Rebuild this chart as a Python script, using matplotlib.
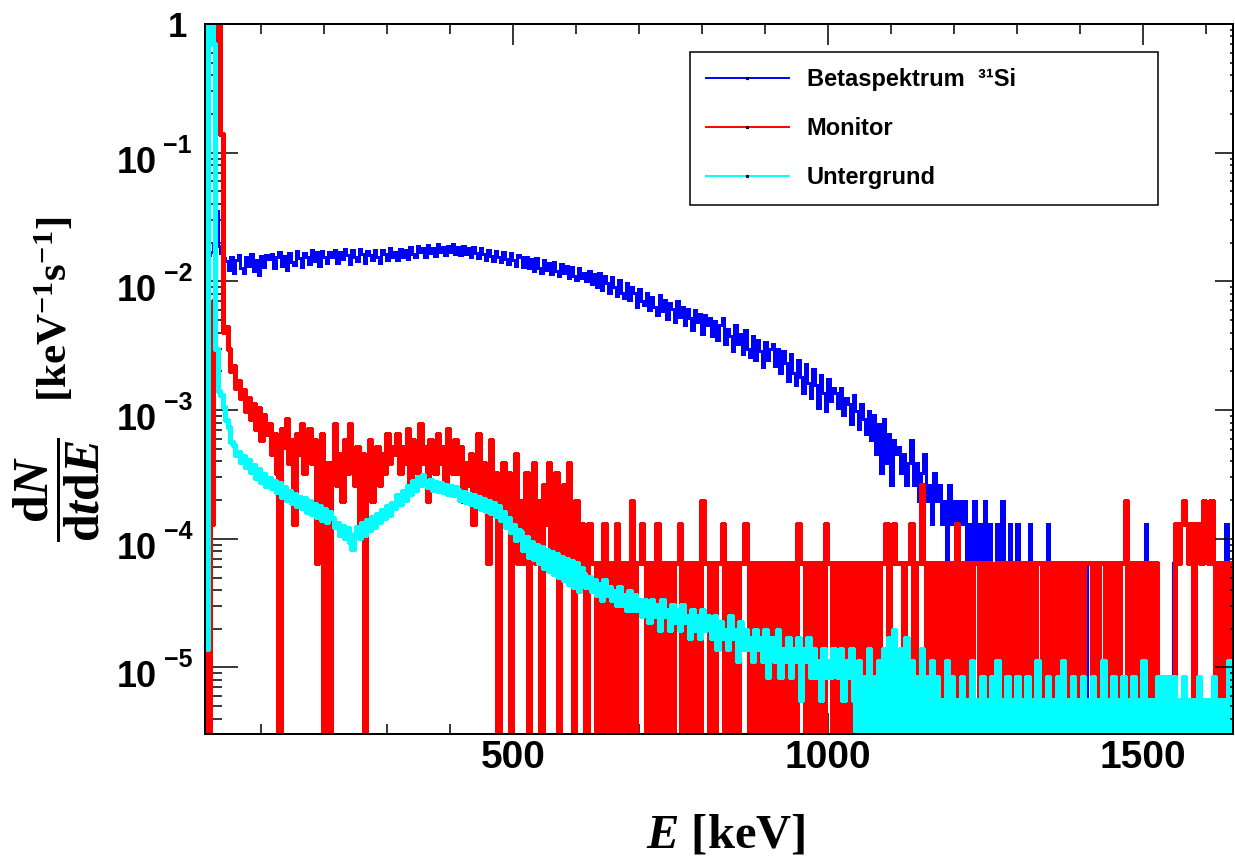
import numpy as np
import matplotlib.pyplot as plt
from matplotlib import transforms
from matplotlib.lines import Line2D
from matplotlib.ticker import NullFormatter, LogLocator

plt.rcParams['mathtext.fontset'] = 'custom'
plt.rcParams['mathtext.rm'] = 'Liberation Serif:bold'
plt.rcParams['mathtext.bf'] = 'Liberation Serif:bold'
plt.rcParams['mathtext.it'] = 'Liberation Serif:bold:italic'

# histogram binning (keV): 4 keV bins from 11 keV on
bin_lo = 11
bin_w = 4

# levels, one row = 100 keV
# beta / monitor: 1 level = 6.5e-5 keV^-1 s^-1, background: 1 level = 2.8e-6
beta_unit = 6.5e-5
monitor_unit = 6.5e-5
bg_unit = 2.8e-6

beta_cnt = [
    0, 246, 260, 300, 540, 290, 255, 232, 222, 188, 240, 180, 226, 248, 196, 178, 236, 201, 252, 186, 224, 172, 241, 199, 246,
    228, 250, 196, 236, 258, 204, 244, 190, 256, 218, 206, 266, 232, 198, 254, 240, 210, 270, 222, 258, 204, 264, 238, 212, 262,
    236, 270, 214, 262, 228, 276, 246, 210, 268, 240, 222, 274, 250, 214, 266, 248, 226, 272, 238, 212, 268, 250, 226, 278, 240,
    258, 226, 276, 240, 270, 230, 284, 252, 236, 290, 258, 280, 240, 296, 256, 282, 244, 302, 262, 286, 246, 292, 258, 298, 252,
    284, 248, 290, 252, 278, 238, 286, 256, 234, 280, 250, 226, 272, 242, 220, 266, 236, 216, 262, 228, 210, 254, 224, 204, 246,
    236, 200, 240, 194, 228, 186, 234, 196, 180, 224, 188, 214, 176, 218, 186, 170, 210, 178, 202, 164, 200, 170, 158, 194, 162,
    180, 154, 186, 148, 176, 140, 178, 132, 168, 150, 124, 166, 140, 118, 158, 126, 114, 150, 110, 140, 124, 98, 134, 108, 100,
    124, 92, 116, 98, 84, 120, 90, 110, 78, 104, 94, 74, 108, 82, 98, 70, 94, 80, 64, 92, 74, 86, 60, 84, 70,
    80, 58, 76, 54, 70, 80, 50, 66, 58, 44, 70, 50, 60, 42, 64, 46, 40, 58, 38, 54, 44, 33, 52, 38, 46,
    50, 34, 46, 30, 44, 36, 26, 42, 30, 24, 38, 28, 21, 35, 25, 19, 32, 24, 16, 29, 21, 15, 27, 18, 23,
    21, 16, 23, 14, 19, 17, 12, 20, 15, 11, 17, 13, 10, 15, 9, 14, 7, 12, 5, 13, 6, 10, 4, 9, 7,
    8, 5, 7, 4, 6, 9, 4, 6, 3, 5, 7, 3, 4, 2, 5, 3, 4, 2, 3, 1, 4, 2, 3, 1, 3,
    2, 3, 1, 2, 0, 3, 1, 2, 1, 3, 0, 2, 1, 0, 2, 1, 3, 0, 1, 2, 0, 1, 2, 0, 1,
    1, 0, 2, 0, 1, 0, 0, 1, 0, 2, 0, 0, 1, 0, 0, 1, 0, 0, 0, 1, 0, 0, 0, 0, 1,
    0, 0, 0, 0, 1, 0, 0, 0, 0, 0, 0, 1, 0, 0, 0, 0, 0, 0, 0, 0, 0, 0, 0, 2, 0,
    0, 0, 0, 0, 0, 0, 0, 0, 0, 1, 0, 0, 0, 0, 0, 0, 0, 0, 0, 0, 0, 0, 0, 0, 0,
    0, 0, 0, 0, 0, 2, 0, 0,
]

monitor_cnt = [
    1, 0, 2, 108, 50000, 50000, 2150, 62, 68, 46, 31, 34, 23, 26, 19, 22, 15, 19, 13, 17, 11, 16, 9, 14, 10,
    12, 7, 10, 5, 0, 11, 8, 13, 6, 9, 2, 10, 7, 12, 5, 8, 11, 6, 9, 1, 7, 10, 0, 6, 0,
    6, 12, 4, 7, 3, 9, 5, 12, 6, 4, 8, 2, 7, 0, 5, 9, 3, 6, 8, 4, 7, 5, 10, 6, 8,
    7, 10, 5, 8, 6, 11, 4, 9, 7, 5, 12, 6, 8, 3, 9, 7, 5, 10, 6, 8, 4, 11, 7, 5, 9,
    5, 8, 3, 6, 4, 7, 2, 5, 10, 3, 6, 4, 1, 9, 3, 5, 0, 4, 6, 2, 5, 0, 3, 7, 1,
    3, 1, 5, 0, 2, 6, 1, 3, 0, 4, 2, 6, 1, 3, 5, 0, 2, 4, 1, 6, 2, 0, 3, 1, 2,
    1, 0, 2, 1, 1, 0, 1, 0, 2, 0, 1, 1, 0, 2, 0, 1, 1, 0, 1, 3, 0, 1, 1, 2, 1,
    0, 1, 1, 0, 2, 0, 1, 1, 0, 1, 0, 1, 1, 2, 0, 1, 0, 1, 1, 0, 1, 0, 3, 1, 1,
    0, 1, 0, 1, 1, 2, 0, 1, 1, 0, 1, 0, 1, 1, 2, 1, 0, 1, 0, 1, 1, 0, 1, 1, 0,
    1, 1, 0, 1, 0, 1, 1, 0, 1, 0, 2, 1, 1, 0, 1, 0, 1, 1, 0, 1, 0, 2, 1, 1, 0,
    1, 0, 1, 1, 0, 1, 0, 1, 1, 0, 1, 1, 0, 1, 1, 0, 1, 0, 1, 1, 2, 0, 1, 2, 1,
    1, 1, 0, 1, 1, 2, 0, 1, 1, 4, 1, 0, 1, 1, 0, 1, 0, 1, 1, 0, 1, 1, 0, 2, 0,
    1, 1, 0, 1, 0, 1, 1, 0, 1, 1, 0, 1, 0, 0, 1, 1, 0, 1, 1, 0, 1, 0, 1, 1, 0,
    1, 1, 0, 1, 0, 1, 1, 0, 1, 0, 1, 1, 0, 1, 1, 0, 1, 0, 1, 1, 0, 1, 1, 0, 1,
    1, 1, 0, 1, 0, 1, 1, 0, 1, 1, 0, 1, 0, 1, 1, 3, 0, 1, 1, 0, 1, 1, 0, 1, 0,
    1, 0, 1, 0, 0, 0, 0, 0, 0, 0, 2, 1, 2, 3, 2, 1, 2, 0, 2, 2, 1, 3, 2, 1, 3,
    1, 0, 1, 0, 1, 0, 1, 0,
]

bg_cnt = [
    5, 600000, 600000, 250000, 1070, 500, 470, 380, 300, 262, 200, 192, 160, 170, 140, 158, 130, 146, 118, 134, 106, 124, 98, 114, 92,
    106, 88, 100, 82, 96, 76, 90, 72, 84, 68, 80, 64, 76, 62, 74, 58, 70, 56, 67, 53, 64, 50, 61, 48, 58,
    52, 44, 47, 38, 45, 36, 43, 34, 30, 39, 44, 36, 47, 38, 50, 42, 53, 44, 56, 48, 60, 52, 64, 55, 68,
    62, 78, 66, 84, 72, 92, 80, 100, 86, 108, 94, 112, 96, 90, 102, 86, 98, 84, 96, 82, 94, 80, 92, 78, 90,
    86, 72, 83, 69, 80, 66, 78, 64, 75, 61, 73, 59, 70, 57, 68, 54, 64, 50, 58, 44, 52, 40, 46, 35, 42,
    40, 29, 37, 26, 34, 25, 32, 23, 31, 21, 29, 20, 28, 19, 27, 18, 26, 17, 25, 16, 24, 15, 23, 14, 21,
    19, 15, 18, 14, 17, 13, 16, 12, 17, 13, 15, 12, 14, 11, 15, 11, 13, 10, 14, 10, 13, 10, 12, 9, 12,
    11, 8, 12, 9, 11, 7, 12, 9, 10, 7, 11, 8, 10, 7, 11, 8, 9, 6, 10, 7, 9, 6, 10, 7, 9,
    8, 6, 9, 5, 8, 6, 7, 5, 9, 6, 7, 4, 8, 5, 7, 5, 6, 4, 7, 5, 6, 4, 7, 3, 6,
    6, 4, 7, 3, 5, 4, 6, 3, 5, 4, 6, 2, 5, 4, 6, 3, 5, 3, 4, 2, 5, 3, 4, 3, 5,
    4, 3, 5, 2, 4, 3, 5, 2, 1, 4, 0, 3, 1, 5, 0, 3, 1, 4, 0, 5, 1, 6, 0, 7, 1,
    1, 5, 0, 6, 1, 4, 0, 3, 1, 5, 0, 3, 1, 4, 0, 3, 1, 2, 0, 4, 1, 3, 0, 2, 1,
    3, 0, 2, 1, 4, 0, 2, 1, 3, 0, 2, 1, 3, 0, 4, 1, 2, 0, 3, 1, 2, 0, 3, 1, 2,
    0, 3, 1, 2, 0, 4, 1, 2, 0, 3, 1, 2, 0, 3, 1, 4, 0, 2, 1, 3, 0, 2, 1, 3, 0,
    2, 1, 3, 0, 2, 1, 4, 0, 2, 1, 3, 0, 2, 0, 3, 1, 2, 0, 3, 1, 2, 0, 4, 1, 2,
    0, 2, 1, 3, 1, 3, 0, 3, 1, 3, 0, 2, 1, 3, 0, 2, 1, 2, 0, 3, 1, 2, 0, 2, 1,
    3, 0, 2, 1, 2, 0, 4, 1,
]

labels = ['Betaspektrum  \u00b3\u00b9Si', 'Monitor', 'Untergrund']
colors = ['#0000ff', '#ff0000', '#00ffff']
widths = [2.0, 2.4, 2.4]

W, H = 1235, 856
fig = plt.figure(figsize=(W / 100, H / 100), dpi=100)
ax = fig.add_axes([205 / W, 1 - 734 / H, 1028 / W, 710 / H])

edges = bin_lo + bin_w * np.arange(len(beta_cnt) + 1)
for cnt, unit, col, lw in zip([beta_cnt, monitor_cnt, bg_cnt],
                              [beta_unit, monitor_unit, bg_unit], colors, widths):
    y = np.asarray(cnt, dtype=float) * unit
    ax.step(edges, np.append(y, y[-1]), where='post', color=col, lw=lw, antialiased=False)

ax.set_yscale('log')
ax.set_xlim(11, 1643)
ax.set_ylim(3.04e-6, 1.0)

for s in ax.spines.values():
    s.set_linewidth(1.4)
    s.set_zorder(5)

# x axis
sans = dict(fontfamily='Liberation Sans', fontweight='bold')
ax.set_xticks([500, 1000, 1500])
ax.set_xticks(np.arange(100, 1700, 100), minor=True)
ax.set_xticklabels(['500', '1000', '1500'], fontsize=28, **sans)
ax.tick_params(axis='x', which='major', direction='in', length=15, width=1.1, top=True, pad=4)
ax.tick_params(axis='x', which='minor', direction='in', length=7.5, width=1.1, top=True)

# y axis (left long ticks, right short ticks)
ax.set_yticks(10.0 ** np.arange(-5, 1))
ax.yaxis.set_minor_locator(LogLocator(subs=np.arange(2, 10)))
ax.yaxis.set_minor_formatter(NullFormatter())
ax.tick_params(axis='y', which='major', direction='in', length=23.8, width=1.1, labelleft=False)
ax.tick_params(axis='y', which='minor', direction='in', length=12.2, width=1.1)

rax = ax.twinx()
rax.set_yscale('log')
rax.set_ylim(ax.get_ylim())
rax.set_yticks(10.0 ** np.arange(-5, 1))
rax.yaxis.set_minor_locator(LogLocator(subs=np.arange(2, 10)))
rax.yaxis.set_minor_formatter(NullFormatter())
rax.tick_params(axis='y', which='major', direction='in', length=13, width=1.1, labelright=False)
rax.tick_params(axis='y', which='minor', direction='in', length=2.2, width=1.1)
for s in rax.spines.values():
    s.set_linewidth(1.4)

# ROOT-like decade labels: "10" with a raised exponent
lab_tr = transforms.blended_transform_factory(ax.transAxes, ax.transData)
def shift(dx, dy):
    return lab_tr + transforms.ScaledTranslation(dx / 100, dy / 100, fig.dpi_scale_trans)

for p in range(-5, 0):
    v = 10.0 ** p
    ax.text(0, v, '10', transform=shift(-48, -20), ha='right', va='baseline', fontsize=26, **sans)
    ax.text(0, v, '\u2212%d' % -p, transform=shift(-13, 0), ha='right', va='baseline', fontsize=18, **sans)
ax.text(0, 1.0, '1', transform=shift(-18, -13), ha='right', va='baseline', fontsize=25, **sans)

# axis titles
serif = dict(fontfamily='Liberation Serif', fontweight='bold')
fig.text(726 / W, 1 - 848 / H, r'$E$ [keV]', ha='center', va='baseline', fontsize=35, **serif)
fig.text(55 / W, 1 - 309 / H, r'[keV$^{-1}$s$^{-1}$]', rotation=90, ha='center', va='center',
         fontsize=31, **serif)
fig.text(57 / W, 1 - 490 / H, r'$\dfrac{\mathrm{d}N}{\mathrm{d}t\mathrm{d}E}$', rotation=90,
         ha='center', va='center', fontsize=36, **serif)

# legend
handles = [Line2D([], [], color=c, lw=1.4, marker='s', markersize=1.3, markerfacecolor='k',
                  markeredgecolor='k') for c in colors]
leg = rax.legend(handles, labels, loc='upper left', bbox_to_anchor=(0.4718, 0.7338, 0.4553, 0.2268),
                 mode='expand', borderaxespad=0, borderpad=0.68, handlelength=3.5, handletextpad=0.76,
                 labelspacing=1.1, numpoints=1, fancybox=False, edgecolor='k', framealpha=1,
                 prop=dict(family='Liberation Sans', weight='bold', size=17))
leg.get_frame().set_linewidth(1.1)

fig.savefig('out.png', dpi=100, facecolor='white')
